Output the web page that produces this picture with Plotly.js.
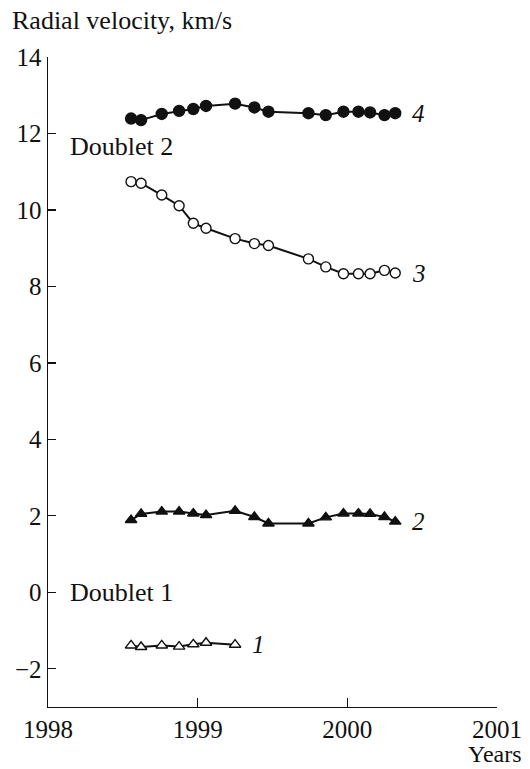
<!DOCTYPE html>
<html>
<head>
<meta charset="utf-8">
<script src="https://cdn.plot.ly/plotly-3.0.1.min.js"></script>
<style>
  html, body { margin: 0; padding: 0; background: #fff; }
  #chart { width: 530px; height: 769px; }
</style>
</head>
<body>
<div id="chart"></div>
<script>
// Observation epochs (decimal years)
const epochs = [1998.555, 1998.622, 1998.760, 1998.876, 1998.971, 1999.056, 1999.250,
                1999.379, 1999.473, 1999.740, 1999.856, 1999.974, 2000.074, 2000.152,
                2000.248, 2000.320];

// Radial velocities, km/s
const comp1 = [-1.39, -1.43, -1.39, -1.42, -1.36, -1.32, -1.37];
const comp2 = [1.89, 2.05, 2.11, 2.11, 2.06, 2.02, 2.13, 1.97, 1.80, 1.80, 1.96, 2.06,
               2.06, 2.05, 1.97, 1.85];
const comp3 = [10.74, 10.70, 10.39, 10.11, 9.65, 9.52, 9.25, 9.12, 9.07, 8.72, 8.51, 8.33,
               8.33, 8.33, 8.42, 8.35];
const comp4 = [12.39, 12.35, 12.51, 12.59, 12.64, 12.72, 12.78, 12.68, 12.57, 12.53, 12.48,
               12.57, 12.57, 12.55, 12.48, 12.53];

const xTicks = [1998, 1999, 2000, 2001];
const yTicks = [-2, 0, 2, 4, 6, 8, 10, 12, 14];

const serif = "Liberation Serif, Times New Roman, serif";
const ink = "#111";

// filled: solid black marker; otherwise white fill with black outline
function series(x, y, symbol, size, filled) {
  return {
    x: x, y: y, type: "scatter", mode: "lines+markers",
    line: { color: ink, width: 2 },
    marker: { symbol: symbol, size: size, color: filled ? ink : "#fff",
              line: { color: ink, width: 1.4 } },
    cliponaxis: false, hoverinfo: "skip"
  };
}

const traces = [
  series(epochs.slice(0, comp1.length), comp1, "triangle-up", 10, false),
  series(epochs, comp2, "triangle-up", 10, true),
  series(epochs, comp3, "circle", 10, false),
  series(epochs, comp4, "circle", 11, true)
];

const lastX = arr => epochs[arr.length - 1];
function curveLabel(arr, text) {
  return { x: lastX(arr), y: arr[arr.length - 1], xref: "x", yref: "y", text: text,
           showarrow: false, xanchor: "left", yanchor: "middle", xshift: 15,
           font: { family: serif, size: 25, color: ink } };
}
function dataText(x, y, text) {
  return { x: x, y: y, xref: "x", yref: "y", text: text, showarrow: false,
           xanchor: "left", yanchor: "middle", font: { family: serif, size: 26, color: ink } };
}

const axisCommon = {
  ticks: "inside", tickwidth: 1.3, tickcolor: ink,
  showline: true, linecolor: ink, linewidth: 1.4, showgrid: false, zeroline: false,
  tickfont: { family: serif, size: 25, color: ink }
};

const layout = {
  width: 530, height: 769,
  margin: { l: 48, r: 33, t: 57, b: 62 },
  paper_bgcolor: "#fff", plot_bgcolor: "#fff",
  showlegend: false,
  font: { family: serif, size: 25, color: ink },
  xaxis: Object.assign({}, axisCommon, {
    range: [1998, 2001], tickvals: xTicks, ticktext: xTicks.map(String), ticklen: 9
  }),
  yaxis: Object.assign({}, axisCommon, {
    range: [-3, 14], tickvals: yTicks,
    ticktext: yTicks.map(v => v < 0 ? "\u2212" + (-v) : String(v)), ticklen: 8
  }),
  annotations: [
    curveLabel(comp1, "<i>1</i>"),
    curveLabel(comp2, "<i>2</i>"),
    curveLabel(comp3, "<i>3</i>"),
    curveLabel(comp4, "<i>4</i>"),
    dataText(1998.134, 11.66, "Doublet 2"),
    dataText(1998.134, 0.0, "Doublet 1"),
    { x: 0, y: 1, xref: "paper", yref: "paper", yshift: 37, xshift: -38,
      text: "Radial velocity, km/s", showarrow: false, xanchor: "left", yanchor: "middle",
      font: { family: serif, size: 26, color: ink } },
    { x: 1, y: 0, xref: "paper", yref: "paper", yshift: -61, xshift: 26, text: "Years",
      showarrow: false, xanchor: "right", yanchor: "bottom", borderpad: 0,
      font: { family: serif, size: 24, color: ink } }
  ]
};

Plotly.newPlot("chart", traces, layout, { staticPlot: true, displayModeBar: false });
</script>
</body>
</html>
